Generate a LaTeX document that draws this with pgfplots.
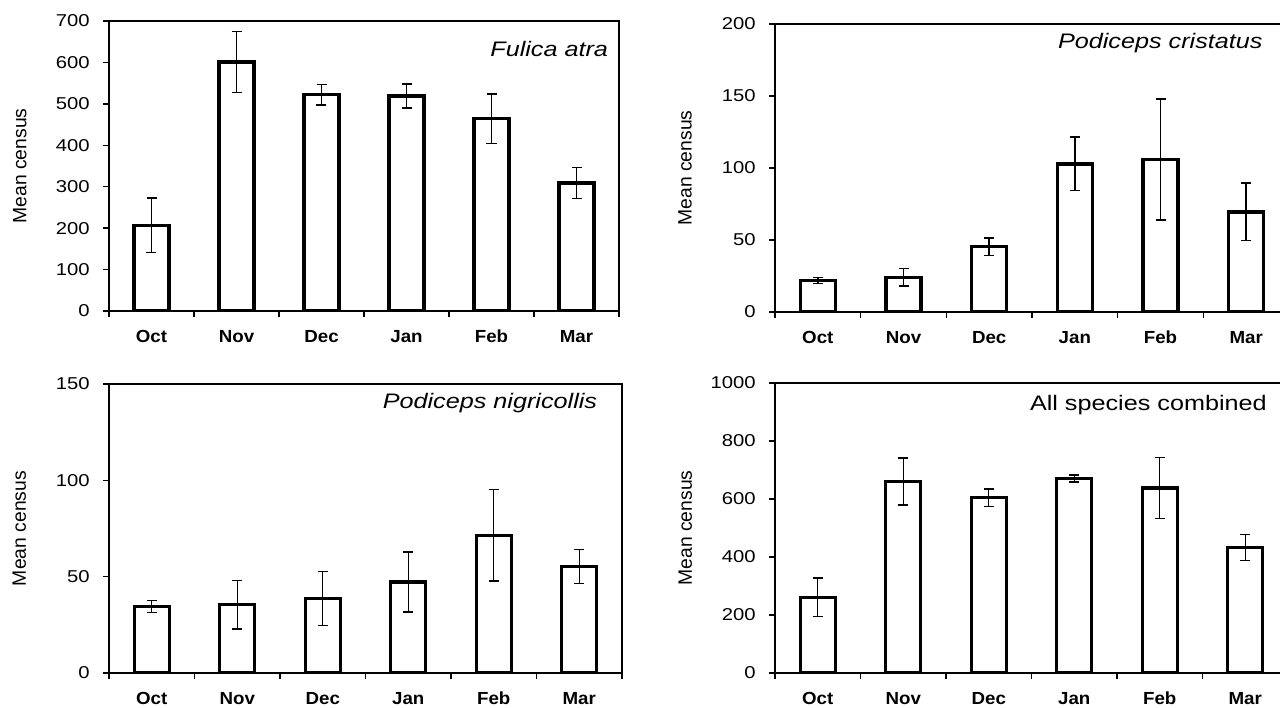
\documentclass[border=0pt]{standalone}
\usepackage{fontspec}
\setmainfont{Liberation Sans}
\newfontfamily\numfont[FakeStretch=1.18]{Liberation Sans}
\newfontfamily\monthfont[FakeStretch=1.07]{Liberation Sans}
\newfontfamily\titlefont[FakeStretch=1.2]{Liberation Sans}
\usepackage{pgfplots}
\pgfplotsset{compat=1.18}

\pgfplotsset{
  panel/.style={
    scale only axis,
    xmin=-0.5, xmax=5.5, ymin=0,
    axis line style={line width=0.8pt},
    tick align=outside,
    tick pos=left,
    major tick length=3.6pt,
    tick style={line width=0.8pt, black},
    xtick={0,...,5},
    xticklabels={Oct,Nov,Dec,Jan,Feb,Mar},
    xtick style={draw=none},
    extra x ticks={-0.5,0.5,...,5.5},
    extra x tick labels={},
    extra x tick style={xtick style={draw=black}},
    /pgf/number format/assume math mode=true,
    /pgf/number format/1000 sep={},
    yticklabel style={font=\numfont\fontsize{10.3}{12}\selectfont,
      anchor=east, inner sep=0pt, xshift=-7.8pt},
    xticklabel style={font=\monthfont\bfseries\fontsize{10.5}{12}\selectfont,
      anchor=north, inner sep=0pt, text height=7.6pt, text depth=0pt, yshift=-7.2pt},
    ylabel={Mean census},
    every axis y label/.style={at={(axis description cs:-0.175,0.5)},
      rotate=90, anchor=center, font=\fontsize{11.6}{13}\selectfont},
  },
  bars/.style={
    ybar, bar width=0.41, fill=white, draw=black, line width=1.9pt,
    error bars/.cd, y dir=both, y explicit,
    error bar style={line width=0.85pt},
    error mark options={rotate=90, line width=0.85pt, mark size=3pt},
  },
}
\tikzset{paneltitle/.style={anchor=east, font=\titlefont\fontsize{12.6}{14}\selectfont}}

\begin{document}
\begin{tikzpicture}
% Fulica atra
\begin{axis}[panel, at={(65.4pt,-186.6pt)}, anchor=south west,
  width=306pt, height=174pt, ymax=700, ytick={0,100,...,700}]
  \addplot[bars] coordinates {
    (0,207) +- (0,66)
    (1,601) +- (0,74)
    (2,522) +- (0,25)
    (3,519) +- (0,29)
    (4,464) +- (0,60)
    (5,309) +- (0,37)
  };
  \node[paneltitle] at (rel axis cs:0.99,0.905) {\itshape Fulica atra};
\end{axis}
% Podiceps cristatus
\begin{axis}[panel, at={(465pt,-187.2pt)}, anchor=south west,
  width=308.4pt, height=172.8pt, ymax=200, ytick={0,50,...,200}]
  \addplot[bars] coordinates {
    (0,22) +- (0,2)
    (1,24.2) +- (0,6)
    (2,45.3) +- (0,6)
    (3,102.8) +- (0,18.6)
    (4,106) +- (0,42)
    (5,69.5) +- (0,20)
  };
  \node[paneltitle] at (rel axis cs:0.96,0.934) {\itshape Podiceps cristatus};
\end{axis}
% Podiceps nigricollis
\begin{axis}[panel, at={(65.4pt,-403.8pt)}, anchor=south west,
  width=307.8pt, height=173.4pt, ymax=150, ytick={0,50,...,150}]
  \addplot[bars] coordinates {
    (0,34.5) +- (0,3)
    (1,35.4) +- (0,12.6)
    (2,38.7) +- (0,14)
    (3,47.2) +- (0,15.6)
    (4,71.4) +- (0,23.7)
    (5,55.3) +- (0,8.8)
  };
  \node[paneltitle] at (rel axis cs:0.963,0.934) {\itshape Podiceps nigricollis};
\end{axis}
% All species combined
\begin{axis}[panel, at={(465pt,-403.8pt)}, anchor=south west,
  width=307.8pt, height=174pt, ymax=1000, ytick={0,200,...,1000}]
  \addplot[bars] coordinates {
    (0,261) +- (0,66)
    (1,660) +- (0,81)
    (2,605) +- (0,30)
    (3,671) +- (0,12)
    (4,638) +- (0,105)
    (5,433) +- (0,45)
  };
  \node[paneltitle] at (rel axis cs:0.97,0.924) {All species combined};
\end{axis}
\pgfresetboundingbox
\useasboundingbox (0pt,0pt) rectangle (768pt,-424.2pt);
\end{tikzpicture}
\end{document}
